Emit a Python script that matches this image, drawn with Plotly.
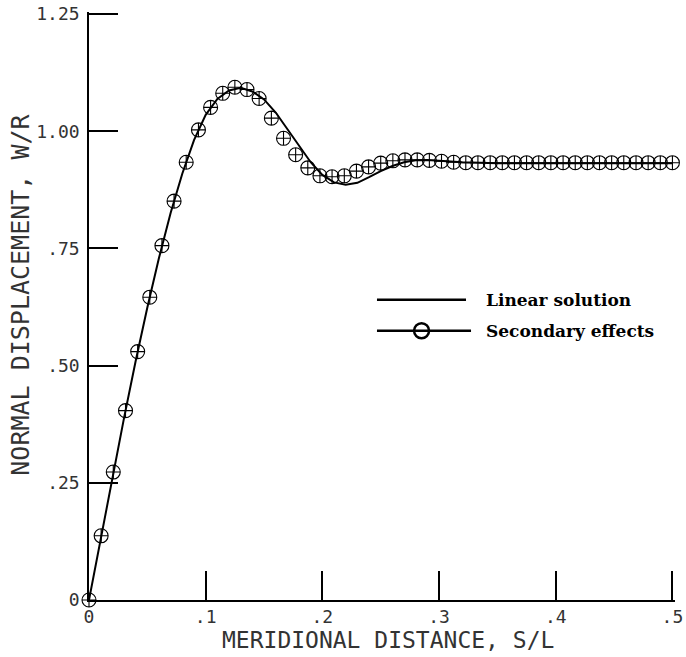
import plotly.graph_objects as go

# Secondary effects (markers)
S_sec = [0.0, 0.0104, 0.0208, 0.0313, 0.0417, 0.0521, 0.0625, 0.0729, 0.0833, 0.0938,
         0.1042, 0.1146, 0.125, 0.1354, 0.1458, 0.1563, 0.1667, 0.1771, 0.1875, 0.1979,
         0.2083, 0.2188, 0.2292, 0.2396, 0.25, 0.2604, 0.2708, 0.2813, 0.2917, 0.3021,
         0.3125, 0.3229, 0.3333, 0.3438, 0.3542, 0.3646, 0.375, 0.3854, 0.3958, 0.4063,
         0.4167, 0.4271, 0.4375, 0.4479, 0.4583, 0.4688, 0.4792, 0.4896, 0.5]
W_sec = [0.0, 0.137, 0.273, 0.404, 0.530, 0.646, 0.756, 0.851, 0.934, 1.003,
         1.051, 1.081, 1.094, 1.089, 1.070, 1.028, 0.985, 0.950, 0.922, 0.905,
         0.903, 0.905, 0.915, 0.924, 0.932, 0.937, 0.939, 0.939, 0.938, 0.936,
         0.934, 0.933, 0.933, 0.933, 0.933, 0.933, 0.933, 0.933, 0.933, 0.933,
         0.933, 0.933, 0.933, 0.933, 0.933, 0.933, 0.933, 0.933, 0.933]

# Linear solution (line)
S_lin = [0.0, 0.01, 0.02, 0.03, 0.04, 0.05, 0.06, 0.07, 0.08, 0.09, 0.10, 0.11, 0.12,
         0.13, 0.14, 0.15, 0.16, 0.17, 0.18, 0.19, 0.20, 0.21, 0.22, 0.23, 0.24, 0.25,
         0.26, 0.27, 0.28, 0.29, 0.30, 0.32, 0.35, 0.40, 0.45, 0.50]
W_lin = [0.0, 0.132, 0.262, 0.388, 0.510, 0.624, 0.730, 0.826, 0.910, 0.981, 1.035,
         1.069, 1.087, 1.093, 1.085, 1.068, 1.040, 1.005, 0.968, 0.934, 0.907, 0.891,
         0.886, 0.890, 0.902, 0.915, 0.926, 0.934, 0.938, 0.939, 0.937, 0.934, 0.932,
         0.932, 0.932, 0.932]

x_ticks = [0, 0.1, 0.2, 0.3, 0.4, 0.5]
x_ticktext = ["0", ".1", ".2", ".3", ".4", ".5"]
y_ticks = [0, 0.25, 0.5, 0.75, 1.0, 1.25]
y_ticktext = ["0", ".25", ".50", ".75", "1.00", "1.25"]

legend_labels = ["Linear solution", "Secondary effects"]

fig = go.Figure()
fig.add_trace(go.Scatter(x=S_lin, y=W_lin, mode="lines",
                         line=dict(color="black", width=2), cliponaxis=False,
                         showlegend=False))
fig.add_trace(go.Scatter(x=S_sec, y=W_sec, mode="markers",
                         marker=dict(symbol="circle-cross-open", size=14, color="black",
                                     line=dict(width=1.1, color="black")),
                         cliponaxis=False, showlegend=False))

# manual legend
lx0, lx1, lxc, ltx = 0.2468, 0.3274, 0.285, 0.3384
ly = [0.6404, 0.5745]
fig.add_shape(type="line", x0=lx0, x1=0.3231, y0=ly[0], y1=ly[0], xref="x", yref="y",
              line=dict(color="black", width=2.5))
fig.add_shape(type="line", x0=lx0, x1=lx1, y0=ly[1], y1=ly[1], xref="x", yref="y",
              line=dict(color="black", width=2.5))
fig.add_trace(go.Scatter(x=[lxc], y=[ly[1]], mode="markers",
                         marker=dict(symbol="circle", size=15, color="white",
                                     line=dict(width=2.5, color="black")),
                         showlegend=False, hoverinfo="skip"))
for lab, yy in zip(legend_labels, ly):
    fig.add_annotation(x=ltx, y=yy, xref="x", yref="y", text="<b>" + lab + "</b>",
                       showarrow=False, xanchor="left", yanchor="middle",
                       font=dict(family="DejaVu Serif", size=17, color="black"))

tick_font = dict(family="DejaVu Sans Mono", size=18, color="#333333")
fig.update_xaxes(range=[0, 0.5022], tickvals=x_ticks, ticktext=x_ticktext,
                 ticks="inside", ticklen=29, tickwidth=1.5, tickcolor="black",
                 showline=True, linecolor="black", linewidth=1.5, showgrid=False,
                 zeroline=False, tickfont=tick_font, mirror=False,
                 ticklabeloverflow="allow")
fig.update_yaxes(range=[0, 1.2545], tickvals=y_ticks, ticktext=y_ticktext,
                 ticks="inside", ticklen=29, tickwidth=1.5, tickcolor="black",
                 showline=True, linecolor="black", linewidth=1.5, showgrid=False,
                 zeroline=False, tickfont=tick_font, mirror=False, ticklabelstandoff=4,
                 ticklabeloverflow="allow")

fig.add_annotation(text="MERIDIONAL DISTANCE, S/L", xref="paper", yref="paper",
                   x=0.51, y=-0.068, showarrow=False, xanchor="center", yanchor="middle",
                   font=dict(family="DejaVu Sans Mono", size=23, color="#333333"))
fig.add_annotation(text="NORMAL DISPLACEMENT, W/R", xref="paper", yref="paper",
                   x=-0.117, y=0.52, showarrow=False, textangle=-90,
                   xanchor="center", yanchor="middle",
                   font=dict(family="DejaVu Sans Mono", size=25, color="#333333"))

fig.update_layout(width=686, height=657, margin=dict(l=89, r=3, t=6, b=57),
                  plot_bgcolor="white", paper_bgcolor="white", showlegend=False)

fig.write_html("out.html")
